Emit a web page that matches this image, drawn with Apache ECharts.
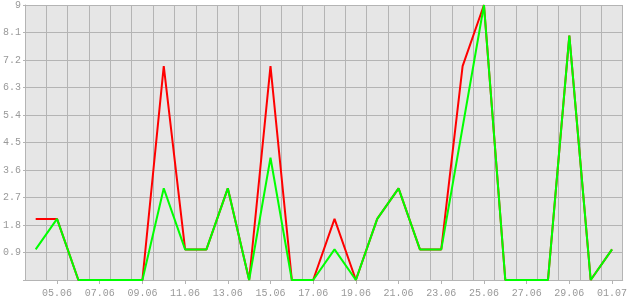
<!DOCTYPE html>
<html>
<head>
<meta charset="utf-8">
<script src="https://cdn.jsdelivr.net/npm/echarts@6/dist/echarts.min.js"></script>
<style>
html,body{margin:0;padding:0;background:#fff;}
#c{width:630px;height:300px;}
</style>
</head>
<body>
<div id="c"></div>
<script>
const categories = ['04.06','05.06','06.06','07.06','08.06','09.06','10.06','11.06','12.06','13.06','14.06','15.06','16.06','17.06','18.06','19.06','20.06','21.06','22.06','23.06','24.06','25.06','26.06','27.06','28.06','29.06','30.06','01.07'];
const redValues   = [2,2,0,0,0,0,7,1,1,3,0,7,0,0,2,0,2,3,1,1,7,9,0,0,0,8,0,1];
const greenValues = [1,2,0,0,0,0,3,1,1,3,0,4,0,0,1,0,2,3,1,1,5,9,0,0,0,8,0,1];
const yMin = 0, yMax = 9, yStep = 0.9;

const gridColor = '#b4b4b4';
const textStyle = {color:'#999999', fontFamily:'Liberation Mono', fontSize:10};
const everyOther = (i) => i % 2 === 1;

const chart = echarts.init(document.getElementById('c'), null, {renderer:'canvas'});
chart.setOption({
  animation:false,
  backgroundColor:'#ffffff',
  grid:{left:25, right:5, top:5, bottom:20, show:true, backgroundColor:'#e6e6e6', borderWidth:0},
  xAxis:{
    type:'category', data:categories, boundaryGap:true,
    axisLine:{show:true, lineStyle:{color:gridColor, width:1}},
    axisTick:{show:true, alignWithLabel:true, interval:everyOther, length:4, lineStyle:{color:gridColor}},
    axisLabel:Object.assign({interval:everyOther, margin:8}, textStyle),
    splitLine:{show:true, interval:0, lineStyle:{color:gridColor, width:1}}
  },
  yAxis:{
    type:'value', min:yMin, max:yMax, interval:yStep,
    axisLine:{show:true, lineStyle:{color:gridColor, width:1}},
    axisTick:{show:true, length:2, lineStyle:{color:gridColor}},
    axisLabel:Object.assign({margin:4, formatter:(v)=> v===0 ? '' : String(Math.round(v*10)/10)}, textStyle),
    splitLine:{show:true, lineStyle:{color:gridColor, width:1}}
  },
  series:[
    {type:'line', data:redValues, showSymbol:false, symbol:'none', lineStyle:{color:'#ff0000', width:2}, itemStyle:{color:'#ff0000'}, z:2},
    {type:'line', data:greenValues, showSymbol:false, symbol:'none', lineStyle:{color:'#00ff00', width:2}, itemStyle:{color:'#00ff00'}, z:3}
  ]
});
</script>
</body>
</html>
